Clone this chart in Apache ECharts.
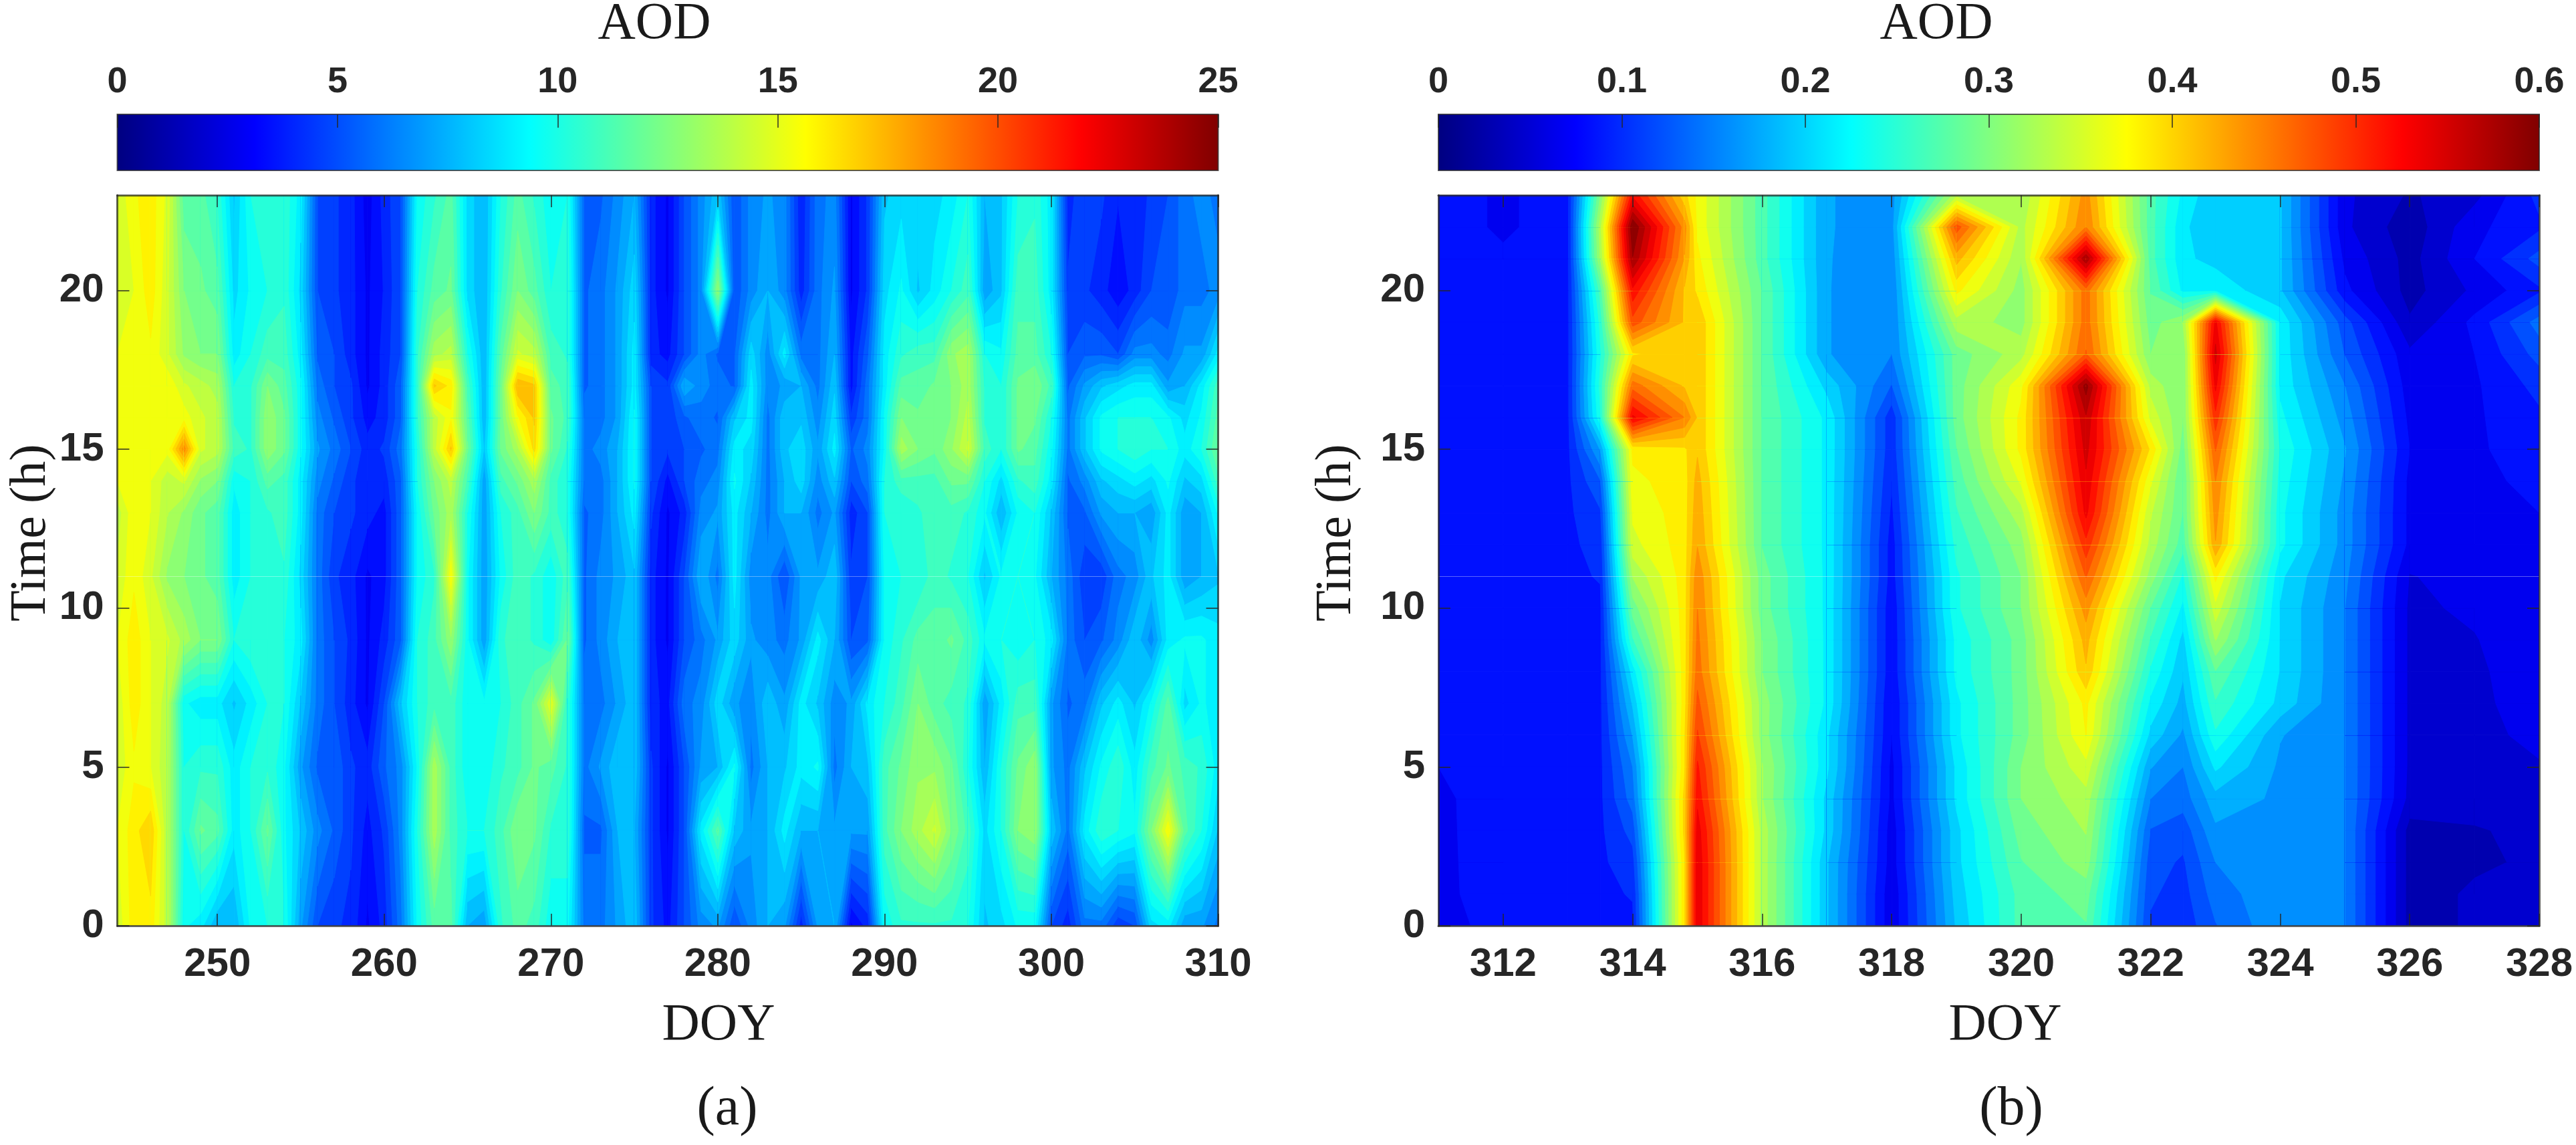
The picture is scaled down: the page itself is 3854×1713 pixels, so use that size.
<!DOCTYPE html>
<html><head><meta charset="utf-8">
<style>html,body{margin:0;padding:0;background:#fff}#c{width:3854px;height:1713px}</style>
<script src="https://cdn.jsdelivr.net/npm/echarts@6/dist/echarts.min.js"></script>
</head><body><div id="c"></div>
<script>
// ---------- panel (a): DOY 244..310, one array per hour row ----------
const doyA = []; for (let d = 244; d <= 310; d++) doyA.push(d);
const hoursA = [0,3,5,7,9,11,13,14,15,16,17,18,20,23];
const a_h00 = [14.5,16,16,14,9.5,9,7.5,7.5,9.5,10, 10,7,5,4.5,4.2,3,4,6,9.5,11.5, 11.5,7.5,7,10.5,11.5,11,9.5,9.5,6,6, 7,8,4.5,3.5,5,6.5,7,5,6.5,7.5, 7,4,7,7.5,3,4,9.5,10.5,10.5,10.5, 10.5,10,8,8.5,9.5,9.5,5,4,6,6, 4.5,5,8.5,9,7,7,6];
const a_h03 = [15,16,16.8,13.8,10,12,11.5,9,10,12, 9.5,8,6.5,5.5,4.5,3.5,4.5,6.5,10,13.5, 11,10,10,11,12.5,12,10.5,10.5,5.5,5.5, 7.5,7.5,4.5,3,5,9,11.5,8,7,7.5, 9,7.5,7.5,7,7,7,11,12.5,13.5,14.5, 12.5,11,8.5,10,12.5,13,8,6,9,10.5, 10,9.5,12.5,15.5,11.5,10,8];
const a_h05 = [14.5,15.5,15,13.8,10,10.5,10.5,9,10,10.5, 9.5,7,5.5,5.5,4.5,4,5.5,6.5,9.5,13.5, 11,9.5,9.5,10.5,11,12,11.5,10.5,6,7, 8,8,4.5,3,5,7,7.5,9.5,6,7.5, 8,9,9.5,6,7.5,8,11,12,13,13, 12,10,7.5,10,12,13,7,6,8,9.5, 10.5,9,11,12,11,10.5,9];
const a_h07 = [14.5,16,15,14,9.5,9,9,8,9,10, 10,8,6,5,4,3,5,8,10,11, 11,9.5,9.5,10,11,12,15,10.5,6,6, 7,8,4,3.5,6,6.5,8.5,7,6.5,8, 7,9,8,6.5,7,9,10,11,12.5,11.5, 11,10.5,7,9,11,11,7,5.5,6,8, 9,8,9.5,11.5,8.5,9.5,9];
const a_h09 = [15,16,15,14.5,13.5,12.5,12.5,10,10.5,10.5, 10,9,6,5,4.2,3,4,5.5,10,11, 13,9.5,7,10.5,11,10.5,9.5,12,5.5,6.5, 7.5,8,4,3,5,6,7,8.5,7,6.5, 6,7,9,7.5,5,5.5,9.5,10.5,11.5,11.5, 12,11,9.5,10,9.5,10,9,6,5,5.5, 6.5,8,6.5,9,9.5,9.5,9];
const a_h11 = [14.5,15.5,14.5,13,12.5,12,11.5,9,10,10.5, 10.5,8.5,6,4.5,4,3,3.5,5.5,9.5,10.5, 15.5,9.5,7,9.5,11,10.5,9.5,11,5.5,6.5, 7,8,4,3,5,7.5,6,9,6.5,6.5, 5,7,7,8,4.5,5,9.5,10,10,11, 10.5,10,8,9.5,10,9.5,7.5,6,4.5,4.5, 6,6.5,8,9,7,7.5,8];
const a_h13 = [14,15.5,15,13.8,13,12,11.5,9,10,10.5, 11,9,6,5,4.5,4,3.5,5.5,9.5,12, 13.5,10,7,10,11,12.5,11,10,5.5,6, 7.5,9,4.5,3,4,6.5,7,9,7.5,6, 7.5,7.5,6,7,4,5,10,10,10.5,11, 11,10.5,9.5,7.5,9.5,10,8,5.5,5.5,7, 7.5,7.5,7,9,7,7.5,9.5];
const a_h14 = [15,15.5,15,14,14.5,13,12.5,9.5,10,11.5, 11,9,6.5,5.5,4.5,4,4,5.5,10,12.5, 14,11,7,11,12,13.5,11,10,6,6, 7.5,9.5,5,3.5,5,6,6.5,9.5,8,6, 7.5,8.5,6.5,8,5,6,10,11,11,11, 12,12,10,8.5,10.5,11,9,5.5,6.5,8, 8.5,9,8.5,9.5,8,8.5,11];
const a_h15 = [15,15,15,15.2,18.5,14.5,14,11,10.5,13, 12,9.5,7,6,5,4,4.5,6,10,14, 17,12,8,12,13.5,16.5,12,10.5,6,6.5, 7.5,9.5,5,4.5,5,5.5,6,9,8.5,6, 8,8.5,7,9,5.5,6.5,9.5,13.5,12.5,12, 13,14.5,11,10,12,11.5,9.5,6,8,9.5, 10,10.5,10,10,9,10,12];
const a_h16 = [15,15,15,15.3,15.3,14.5,14,10.5,10.5,13, 12,9.5,6.5,5.5,4.5,3.5,4,5.5,10.5,14, 15.5,11.5,7.5,12,15.5,17,12,11,6,6, 7,9.5,5,4.5,5.5,6,5.5,8,9,6, 8,8,6.5,8.5,4.5,6,9.5,12.5,12,12, 12.5,14,10.5,10,12,12,10,6,8,9.5, 10,10,10,9.5,8.5,9.5,11.5];
const a_h17 = [15,15.5,15.5,15.5,14.5,14,13.5,10,10.5,12.5, 11.5,9.5,6,5,4.5,3,4,5.5,10.5,17, 16,11,7.5,12,17.5,17,11.5,11,5.5,6, 7,9,5,4.5,7.5,6.5,6,5.5,9,6.5, 7,7.5,6,8,3.5,6,9,11.5,11.5,12, 12.5,13.5,10.5,10,12,12.5,11,5.5,7,8, 8.5,9,9,7,7.5,9,11];
const a_h18 = [15,15.5,15.5,14.5,13,12.5,12.5,9,10,11, 11,9,5.5,5,4,3,4,5,10.5,13.5, 14,10,7.5,11.5,14.5,14,11,10.5,5.5,6, 7,9,4,3.5,5,6.5,5.5,5.5,8.5,6.5, 9,6,6,7.5,3.5,5.5,9,10.5,11,11, 13,13.5,10,9.5,11.5,11.5,10,5,5.5,5.5, 5,6.5,6.5,6,7,7,9];
const a_h20 = [14.5,15,16,14.5,12.5,12,11.5,8.5,9.5,10, 10.5,8.5,5,4.5,4,3,3.8,5,10,11.5, 12,8.5,7.5,10.5,12.5,11.5,10,10.5,5.5,6, 7,8.5,4,3,5,6.5,13,5,6.5,7.5, 6.5,4,6,7,3,4.5,8.5,9.5,8,9, 10,11,7,8,11,11,9,4.5,4.5,4, 3.3,4,5,5,6,6,6.5];
const a_h23 = [14.5,15.5,16,14.8,11.5,11.5,10.5,8,10,10.5, 10.5,9,5,4.5,4,2.8,4,5,9.5,10.5, 11.5,8.5,7.5,10,11.5,10.5,9.5,10,5.5,5.5, 6.5,7.5,4,3,5,6.5,8,5,6.5,7, 6.5,3.8,6,6.5,3,4.5,8,8.5,8.5,8.5, 9,10,7.5,8,10,10.5,9,4,5,4.5, 3.8,4,4.5,5,6,6.5,6];
const rowsA = [a_h00,a_h03,a_h05,a_h07,a_h09,a_h11,a_h13,a_h14,a_h15,a_h16,a_h17,a_h18,a_h20,a_h23];

// ---------- panel (b): one array per hour, values at the DOY positions below ----------
const doyB = [311,312,313,313.5,314,314.8,315,316,317,318,319,320,321,322,322.5,323,324,325,326,327,328];
const hoursB = [0,1,2,3,4,5,6,7,8,9,10,11,12,13,14,15,16,17,18,19,20,21,22,23];
const b_h00 = [.07,.08,.09,.09,.09,.39,.54,.33,.19,.06,.19,.27,.28,.11,.10,.13,.165,.15,.03,.04,.04];
const b_h01 = [.07,.085,.09,.09,.095,.39,.54,.33,.19,.06,.195,.27,.29,.115,.105,.14,.165,.15,.03,.04,.04];
const b_h02 = [.07,.086,.09,.09,.105,.39,.54,.33,.19,.065,.20,.28,.31,.12,.11,.15,.165,.15,.03,.035,.04];
const b_h03 = [.07,.087,.09,.09,.12,.40,.535,.33,.20,.065,.20,.29,.32,.13,.12,.165,.165,.15,.03,.035,.045];
const b_h04 = [.07,.088,.09,.09,.14,.40,.52,.32,.20,.07,.21,.30,.33,.15,.14,.18,.165,.15,.05,.05,.05];
const b_h05 = [.075,.09,.09,.09,.15,.39,.51,.32,.21,.07,.21,.30,.35,.17,.15,.21,.165,.15,.052,.052,.055];
const b_h06 = [.075,.09,.09,.09,.17,.39,.49,.31,.21,.075,.22,.29,.375,.20,.165,.24,.17,.15,.052,.052,.06];
const b_h07 = [.08,.09,.09,.09,.19,.385,.475,.31,.22,.075,.22,.29,.38,.22,.18,.26,.20,.15,.052,.052,.065];
const b_h08 = [.085,.09,.09,.09,.215,.385,.46,.30,.22,.08,.23,.29,.41,.24,.19,.28,.205,.15,.052,.052,.07];
const b_h09 = [.09,.09,.09,.09,.26,.385,.455,.30,.22,.08,.23,.29,.42,.26,.20,.32,.205,.15,.052,.055,.072];
const b_h10 = [.09,.09,.09,.09,.29,.385,.45,.29,.22,.08,.24,.30,.44,.28,.22,.35,.205,.15,.052,.06,.075];
const b_h11 = [.09,.09,.09,.095,.32,.385,.445,.29,.22,.085,.24,.30,.47,.31,.24,.38,.21,.155,.055,.065,.075];
const b_h12 = [.09,.09,.09,.10,.35,.385,.43,.28,.22,.085,.25,.31,.50,.33,.27,.43,.23,.16,.07,.07,.075];
const b_h13 = [.09,.09,.09,.11,.36,.385,.425,.28,.22,.09,.26,.33,.53,.34,.28,.44,.23,.16,.07,.07,.075];
const b_h14 = [.09,.09,.09,.13,.37,.385,.42,.28,.22,.095,.27,.36,.54,.36,.28,.45,.235,.165,.07,.07,.08];
const b_h15 = [.09,.09,.09,.17,.38,.39,.41,.28,.22,.10,.28,.38,.55,.39,.29,.47,.24,.17,.075,.072,.085];
const b_h16 = [.09,.09,.09,.24,.53,.45,.41,.28,.22,.10,.29,.38,.56,.35,.30,.50,.23,.16,.07,.072,.09];
const b_h17 = [.09,.09,.09,.25,.46,.41,.41,.28,.20,.13,.29,.37,.59,.33,.30,.53,.22,.15,.065,.072,.10];
const b_h18 = [.09,.09,.09,.24,.39,.41,.41,.28,.17,.15,.29,.33,.47,.30,.30,.55,.22,.13,.06,.075,.12];
const b_h19 = [.09,.09,.09,.25,.48,.41,.41,.28,.17,.15,.33,.31,.46,.29,.32,.53,.22,.12,.04,.08,.14];
const b_h20 = [.09,.09,.09,.27,.52,.41,.39,.28,.17,.15,.38,.31,.46,.28,.22,.22,.19,.08,.03,.06,.09];
const b_h21 = [.09,.08,.09,.32,.58,.43,.38,.27,.17,.155,.42,.32,.58,.27,.21,.20,.19,.07,.03,.075,.12];
const b_h22 = [.09,.07,.09,.33,.60,.44,.37,.27,.17,.16,.48,.33,.45,.27,.21,.19,.19,.06,.025,.07,.09];
const b_h23 = [.09,.07,.09,.30,.52,.40,.37,.27,.17,.16,.33,.32,.44,.27,.22,.19,.19,.06,.035,.05,.10];
const rowsB = [b_h00,b_h01,b_h02,b_h03,b_h04,b_h05,b_h06,b_h07,b_h08,b_h09,b_h10,b_h11,b_h12,b_h13,b_h14,b_h15,b_h16,b_h17,b_h18,b_h19,b_h20,b_h21,b_h22,b_h23];

// ---------- ticks ----------
const ticksXA = [250,260,270,280,290,300,310];
const ticksXB = [312,314,316,318,320,322,324,326,328];
const ticksY = [0,5,10,15,20];
const ticksBarA = [0,5,10,15,20,25];
const ticksBarB = [0,0.1,0.2,0.3,0.4,0.5,0.6];

// ---------- colour ----------
const clamp = v => Math.max(0, Math.min(1, v));
function jet(t){
  const r = clamp(1.5-Math.abs(4*t-3)), g = clamp(1.5-Math.abs(4*t-2)), b = clamp(1.5-Math.abs(4*t-1));
  return `rgb(${Math.round(r*255)},${Math.round(g*255)},${Math.round(b*255)})`;
}
const AXC = 'rgba(38,38,38,0.72)', TXT = '#262626';
const SANS = '"Liberation Sans",Arial,sans-serif', SERIF = '"Liberation Serif","Times New Roman",serif';

// clip polygon [x,y,z] to z>=level
function clip(poly, level){
  const out = [];
  for (let i=0;i<poly.length;i++){
    const p = poly[i], q = poly[(i+1)%poly.length];
    const pi = p[2]>=level, qi = q[2]>=level;
    if (pi) out.push(p);
    if (pi!==qi){
      const t=(level-p[2])/(q[2]-p[2]);
      out.push([p[0]+t*(q[0]-p[0]),p[1]+t*(q[1]-p[1]),level]);
    }
  }
  return out;
}

function contourSeries(xs, ys, rows, vmax, nLevels, xi, yi){
  const data = [];
  for (let j=0;j<ys.length-1;j++) for (let i=0;i<xs.length-1;i++) data.push([xs[i],ys[j],i,j]);
  const step = vmax/nLevels;
  return {
    type:'custom', xAxisIndex:xi, yAxisIndex:yi, clip:true, z:2, silent:true,
    animation:false, progressive:0, encode:{x:0,y:1}, data,
    renderItem(params, api){
      const i=data[params.dataIndex][2], j=data[params.dataIndex][3];
      const quad=[[xs[i],ys[j],rows[j][i]],[xs[i+1],ys[j],rows[j][i+1]],[xs[i+1],ys[j+1],rows[j+1][i+1]],[xs[i],ys[j+1],rows[j+1][i]]];
      const zs=quad.map(p=>p[2]), lo=Math.min(...zs), hi=Math.max(...zs);
      const kLo=Math.max(0,Math.min(nLevels-1,Math.floor(lo/step)));
      const kHi=Math.max(0,Math.min(nLevels-1,Math.floor(hi/step)));
      const children=[];
      for (let k=kLo;k<=kHi;k++){
        const poly = k===kLo ? quad : clip(quad,k*step);
        if (poly.length<3) continue;
        const col=jet((k+0.5)/nLevels);
        children.push({type:'polygon',shape:{points:poly.map(p=>api.coord([p[0],p[1]]))},style:{fill:col,stroke:col,lineWidth:1}});
      }
      return {type:'group',children};
    },
    markLine:{silent:true,symbol:'none',animation:false,label:{show:false},lineStyle:{color:'rgba(255,255,255,0.35)',width:1,type:'solid'},data:[{yAxis:11}]}
  };
}

const barStops=[]; for(let s=0;s<=64;s++) barStops.push({offset:s/64,color:jet(s/64)});
function barSeries(vmax,xi,yi){
  return {type:'custom',xAxisIndex:xi,yAxisIndex:yi,z:2,silent:true,animation:false,clip:false,encode:{x:0,y:1},data:[[0,0]],
    renderItem(p,api){
      const a=api.coord([0,0]), b=api.coord([vmax,1]);
      return {type:'rect',shape:{x:a[0],y:b[1],width:b[0]-a[0],height:a[1]-b[1]},
        style:{fill:new echarts.graphic.LinearGradient(0,0,1,0,barStops),stroke:AXC,lineWidth:2}};
    }};
}

const L=[175.5,2152], W=1647, PT=292, PH=1093, BT=171, BH=84;
const grid=[
  {left:L[0],top:PT,width:W,height:PH},{left:L[1],top:PT,width:W,height:PH},
  {left:L[0],top:BT,width:W,height:BH},{left:L[1],top:BT,width:W,height:BH}];
const tickStyle={show:true,inside:true,length:18,lineStyle:{color:AXC,width:2}};
function xPlot(g,min,max,ticks){return [
  {type:'value',gridIndex:g,min,max,position:'bottom',z:10,splitLine:{show:false},
   axisLine:{show:true,onZero:false,lineStyle:{color:AXC,width:3}},
   axisTick:{...tickStyle,customValues:ticks},
   axisLabel:{show:true,customValues:ticks,margin:28,color:TXT,fontFamily:SANS,fontWeight:'bold',fontSize:60}},
  {type:'value',gridIndex:g,min,max,position:'top',z:10,splitLine:{show:false},
   axisLine:{show:true,onZero:false,lineStyle:{color:AXC,width:3}},
   axisTick:{...tickStyle,customValues:ticks},axisLabel:{show:false}}];}
function yPlot(g){return [
  {type:'value',gridIndex:g,min:0,max:23,position:'left',z:10,splitLine:{show:false},
   axisLine:{show:true,onZero:false,lineStyle:{color:AXC,width:3}},
   axisTick:{...tickStyle,customValues:ticksY},
   axisLabel:{show:true,customValues:ticksY,margin:20,color:TXT,fontFamily:SANS,fontWeight:'bold',fontSize:60}},
  {type:'value',gridIndex:g,min:0,max:23,position:'right',z:10,splitLine:{show:false},
   axisLine:{show:true,onZero:false,lineStyle:{color:AXC,width:3}},
   axisTick:{...tickStyle,customValues:ticksY},axisLabel:{show:false}}];}
function xBar(g,vmax,ticks){return {type:'value',gridIndex:g,min:0,max:vmax,position:'top',z:10,splitLine:{show:false},
   axisLine:{show:false,onZero:false},axisTick:{show:true,inside:true,length:20,customValues:ticks,lineStyle:{color:AXC,width:2}},
   axisLabel:{show:true,customValues:ticks,margin:21,color:TXT,fontFamily:SANS,fontWeight:'bold',fontSize:54}};}
const yBar=g=>({type:'value',gridIndex:g,min:0,max:1,show:false});

const xAxis=[...xPlot(0,244,310,ticksXA),...xPlot(1,311,328,ticksXB),xBar(2,25,ticksBarA),xBar(3,0.6,ticksBarB)];
const yAxis=[...yPlot(0),...yPlot(1),yBar(2),yBar(3)];

const serif=(text,x,y,size,extra)=>({type:'text',x,y,silent:true,...(extra||{}),
  style:{text,fill:'#1a1a1a',font:`${size}px ${SERIF}`,align:'center',verticalAlign:'middle'}});
const graphic=[
  serif('AOD',979,37,78), serif('AOD',2897,37,78),
  serif('DOY',1075,1535,78), serif('DOY',3000,1535,78),
  serif('(a)',1088,1660,82), serif('(b)',3009,1660,82),
  serif('Time (h)',47,797,76,{rotation:Math.PI/2}), serif('Time (h)',2000,797,76,{rotation:Math.PI/2})
];

const chart=echarts.init(document.getElementById('c'),null,{renderer:'canvas'});
chart.setOption({
  animation:false, backgroundColor:'#fff', grid, xAxis, yAxis, graphic,
  series:[
    contourSeries(doyA,hoursA,rowsA,25,40,0,0),
    contourSeries(doyB,hoursB,rowsB,0.6,32,2,2),
    barSeries(25,4,4), barSeries(0.6,5,5)
  ]
});
</script></body></html>
